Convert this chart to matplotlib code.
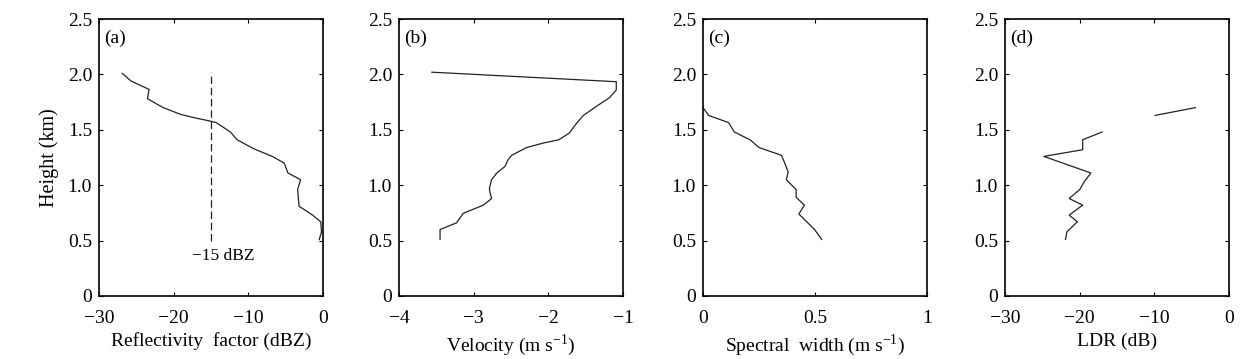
import numpy as np
import matplotlib
matplotlib.use('Agg')
import matplotlib.pyplot as plt

plt.rcParams['font.family'] = ['Liberation Serif', 'DejaVu Serif']
plt.rcParams['mathtext.fontset'] = 'custom'
plt.rcParams['mathtext.rm'] = 'Liberation Serif'
plt.rcParams['axes.unicode_minus'] = True

# (a) reflectivity factor profile (dBZ vs km)
refl_z = [-26.9, -25.7, -23.3, -23.5, -21.4, -19.1, -17.3, -15.2, -14.3, -12.4, -11.5,
          -9.3, -6.8, -5.2, -4.7, -3.0, -3.4, -3.2, -1.4, -0.3, -0.2, -0.5]
refl_h = [2.01, 1.94, 1.865, 1.78, 1.70, 1.64, 1.61, 1.58, 1.565, 1.48, 1.41,
          1.33, 1.26, 1.20, 1.11, 1.05, 0.96, 0.81, 0.73, 0.67, 0.58, 0.51]
thresh_dbz = -15
thresh_h = [0.5, 2.02]

# (b) velocity profile
vel = [-3.56, -1.09, -1.09, -1.18, -1.36, -1.53, -1.62, -1.72, -1.86, -2.07, -2.29,
       -2.49, -2.54, -2.58, -2.69, -2.76, -2.79, -2.78, -2.76, -2.87, -3.14, -3.23,
       -3.45, -3.45]
vel_h = [2.02, 1.934, 1.86, 1.79, 1.71, 1.63, 1.56, 1.47, 1.41, 1.38, 1.34,
         1.27, 1.23, 1.17, 1.11, 1.05, 0.97, 0.93, 0.88, 0.82, 0.746, 0.66,
         0.60, 0.51]

# (c) spectral width profile
sw = [0.0, 0.025, 0.114, 0.14, 0.21, 0.25, 0.35, 0.365, 0.38, 0.372, 0.416,
      0.416, 0.453, 0.428, 0.498, 0.53]
sw_h = [1.70, 1.63, 1.565, 1.48, 1.41, 1.34, 1.27, 1.20, 1.12, 1.05, 0.96,
        0.89, 0.82, 0.74, 0.60, 0.51]

# (d) LDR profile, gap between the two segments
ldr = [-21.9, -21.7, -20.3, -21.4, -19.6, -21.4, -20.0, -19.4, -18.5, -24.8,
       -19.6, -19.6, -17.0, np.nan, -9.9, -4.5]
ldr_h = [0.51, 0.58, 0.67, 0.73, 0.82, 0.88, 0.96, 1.03, 1.11, 1.26,
         1.32, 1.41, 1.48, np.nan, 1.63, 1.70]

yticks = [0, 0.5, 1.0, 1.5, 2.0, 2.5]
ylabels = ['0', '0.5', '1.0', '1.5', '2.0', '2.5']

fig = plt.figure(figsize=(12.55, 3.59), dpi=100)
lefts = [99, 399, 703, 1005]
axes = [fig.add_axes([l / 1255, 63 / 359, 224 / 1255, 277 / 359]) for l in lefts]

panels = [
    (refl_z, refl_h, (-30, 0), [-30, -20, -10, 0], ['\u221230', '\u221220', '\u221210', '0'],
     'Reflectivity  factor (dBZ)', '(a)'),
    (vel, vel_h, (-4, -1), [-4, -3, -2, -1], ['\u22124', '\u22123', '\u22122', '\u22121'],
     'Velocity (m s$^{\u22121}$)', '(b)'),
    (sw, sw_h, (0, 1), [0, 0.5, 1], ['0', '0.5', '1'],
     'Spectral  width (m s$^{\u22121}$)', '(c)'),
    (ldr, ldr_h, (-30, 0), [-30, -20, -10, 0], ['\u221230', '\u221220', '\u221210', '0'],
     'LDR (dB)', '(d)'),
]

for ax, (x, y, xlim, xt, xtl, xlab, tag) in zip(axes, panels):
    ax.plot(x, y, color='#222222', lw=0.9)
    ax.set_xlim(*xlim)
    ax.set_ylim(0, 2.5)
    ax.set_xticks(xt)
    ax.set_xticklabels(xtl)
    ax.set_yticks(yticks)
    ax.set_yticklabels(ylabels)
    ax.tick_params(direction='in', length=3, width=0.8, top=True, right=True,
                   labelsize=14)
    ax.tick_params(axis='x', pad=10)
    ax.tick_params(axis='y', pad=5)
    for s in ax.spines.values():
        s.set_linewidth(1.2)
    ax.set_xlabel(xlab, fontsize=14, labelpad=4)
    ax.text(0.025, 0.96, tag, transform=ax.transAxes, fontsize=14, va='top', ha='left')

axes[0].set_ylabel('Height (km)', fontsize=14.5, labelpad=6)
axes[0].plot([thresh_dbz, thresh_dbz], thresh_h, color='#222222', lw=0.9, ls=(0, (6, 3)))
axes[0].text(-17.6, 0.36, '\u221215 dBZ', fontsize=12.5, va='center', ha='left')

fig.savefig('out.png', dpi=100)
